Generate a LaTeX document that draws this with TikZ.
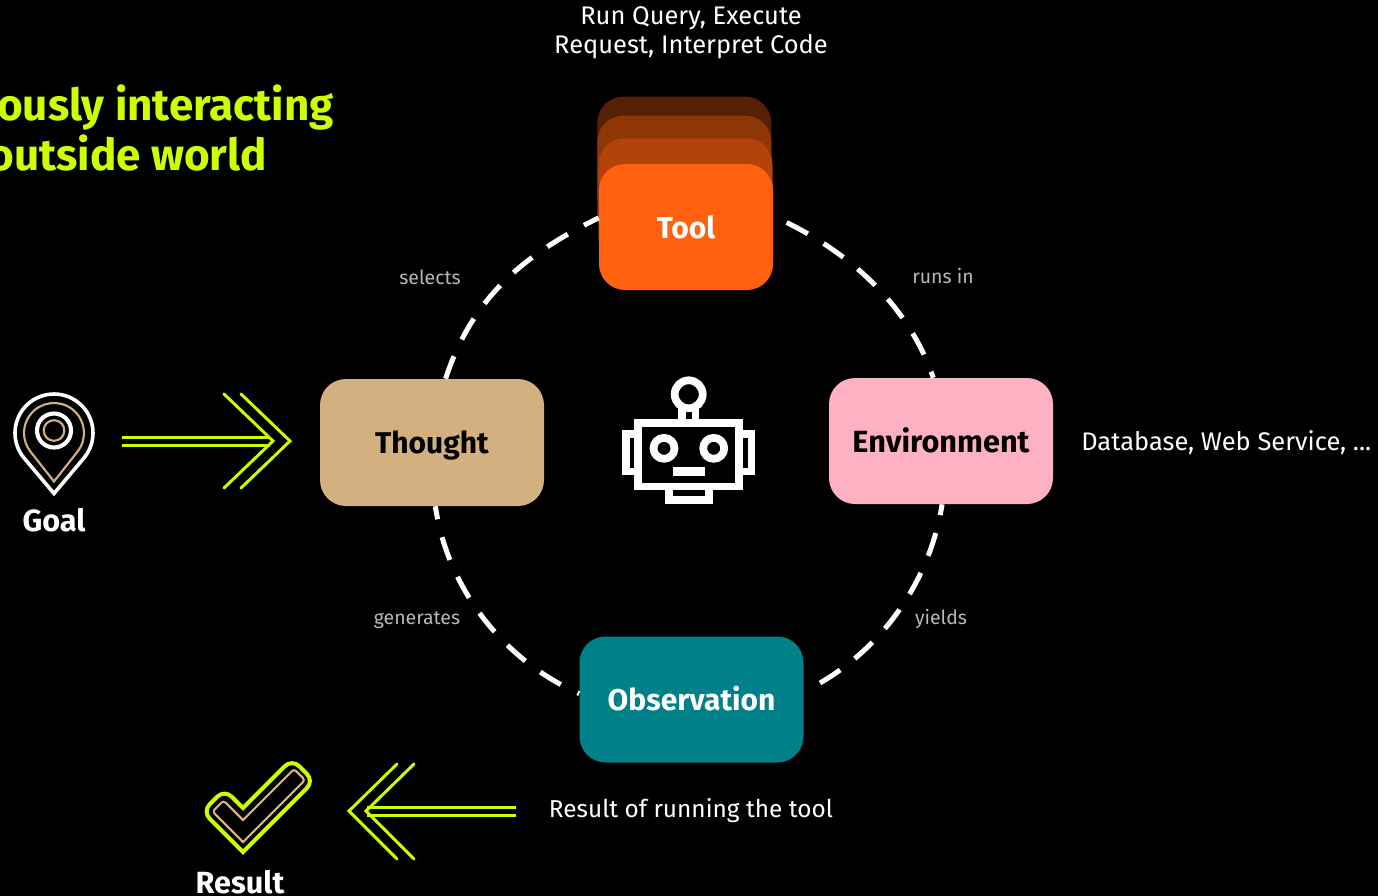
\documentclass[tikz,border=0pt]{standalone}
\usepackage{fontspec}
\setmainfont{Fira Sans}
\definecolor{lime}{HTML}{CCFF00}
\definecolor{tan}{HTML}{D2B07F}
\definecolor{toolc}{HTML}{FF610F}
\definecolor{toolb}{HTML}{B4430A}
\definecolor{toolm}{HTML}{8F3607}
\definecolor{toolt}{HTML}{562006}
\definecolor{pinkc}{HTML}{FFB1C4}
\definecolor{tealc}{HTML}{008089}
\definecolor{graylab}{HTML}{B8B8B8}
\tikzset{
  cardbox/.style={rounded corners=19.5pt,inner sep=0pt,minimum width=168pt,minimum height=94.5pt,
     text height=16.5pt,text depth=0pt,font=\fontsize{22.5pt}{26pt}\selectfont\bfseries},
  stackbox/.style={cardbox,minimum width=130.5pt},
  loop/.style={draw=white,line width=3.75pt,dash pattern=on 18pt off 13.9pt},
  chev/.style={draw=lime,line width=2.2pt,line cap=round,line join=miter},
  bar/.style={draw=lime,line width=2.6pt},
  lab/.style={text=graylab,font=\fontsize{14.6pt}{17pt}\selectfont,inner sep=0pt},
  note/.style={text=white,font=\fontsize{19.1pt}{22pt}\selectfont,inner sep=0pt,align=center},
  head/.style={text=white,font=\fontsize{23pt}{26pt}\selectfont\bfseries,inner sep=0pt},
  title/.style={text=lime,font=\fontsize{33pt}{37pt}\selectfont\bfseries,inner sep=0pt,anchor=east},
  robot/.style={draw=white,line width=5.8pt},
}
\begin{document}
\begin{tikzpicture}[x=0.75pt,y=0.75pt]
\fill[black] (0,0) rectangle (1378,-896);
\useasboundingbox (0,0) rectangle (1378,-896);
% tool stack
\node[stackbox,fill=toolt] (tool3) at (684.3,-159.7) {};
\node[stackbox,fill=toolm] (tool2) at (684.3,-178.7) {};
\node[stackbox,fill=toolb] (tool1) at (685.5,-201.3) {};
\node[stackbox,fill=toolc,text=white] (tool) at (686,-227) {Tool};
% nodes
\node[cardbox,fill=tan,text=black,minimum height=95.25pt] (thought) at (432,-442.5) {Thought};
\node[cardbox,fill=pinkc,text=black,font=\fontsize{23pt}{26pt}\selectfont\bfseries] (env) at (941,-441) {Environment};
\node[cardbox,fill=tealc,text=white] (obs) at (691.5,-699.5) {Observation};
% dashed loop
\draw[loop,dash phase=20.8pt] (tool.7) .. controls (845,-248) and (908,-303) .. (env.97);
\draw[loop,dash phase=9.75pt] (env.-89) .. controls (929,-586) and (876.9,-656.1) .. (obs.4);
\draw[loop,dash phase=16.5pt] (obs.177) .. controls (503,-660) and (447.4,-588) .. (thought.-87);
\draw[loop] (thought.78) .. controls (472,-298) and (523,-255) .. (tool.174);
% labels
\node[note] (n1) at (691,-33) {Run Query, Execute\\Request, Interpret Code};
\node[title] (t1) at (334,-108) {ously interacting};
\node[title] (t2) at (267,-153) {outside world};
\node[lab] (l1) at (430,-277.5) {selects};
\node[lab] (l2) at (943,-276.5) {runs in};
\node[lab] (l3) at (417,-620) {generates};
\node[lab] (l4) at (941,-619) {yields};
\node[note,anchor=west] (n2) at (1081,-443) {Database, Web Service, ...};
\node[note,font=\fontsize{18.3pt}{22pt}\selectfont] (n3) at (691,-811) {Result of running the tool};
\node[head] (goal) at (54,-520) {Goal};
\node[head] (result) at (240,-882) {Result};
% goal pin
\draw[white,line width=2.7pt,line join=miter] (54,-493.5) -- ([shift={(54,-433)}]-40.1:39) arc[start angle=-40.1,end angle=220.1,radius=39] -- cycle;
\draw[tan,line width=1.6pt] (54,-481.5) -- ([shift={(54,-433)}]-38.2:30) arc[start angle=-38.2,end angle=218.2,radius=30] -- cycle;
\draw[white,line width=3.1pt] (54,-430.5) circle[radius=17];
\draw[tan,line width=1.6pt] (54,-430.5) circle[radius=10.3];
% arrow goal -> thought
\coordinate (ga) at (122,-437.3); \coordinate (gb) at (122,-445.7);
\coordinate (gc) at (270,-437.3); \coordinate (gd) at (270,-445.7);
\draw[bar] (ga) -- (gc);
\draw[bar] (gb) -- (gd);
\coordinate (ge) at (224,-394); \coordinate (gf) at (273,-441); \coordinate (gg) at (224,-488);
\coordinate (gh) at (241,-394); \coordinate (gi) at (290,-441); \coordinate (gj) at (241,-488);
\draw[chev] (ge) -- (gf) -- (gg);
\draw[chev] (gh) -- (gi) -- (gj);
% arrow to result
\coordinate (ra) at (516,-807.3); \coordinate (rb) at (516,-815.7);
\coordinate (rc) at (367,-807.3); \coordinate (rd) at (367,-815.7);
\draw[bar] (ra) -- (rc);
\draw[bar] (rb) -- (rd);
\coordinate (re) at (397,-764); \coordinate (rf) at (349,-811); \coordinate (rg) at (397,-859);
\coordinate (rh) at (414,-764); \coordinate (ri) at (366,-811); \coordinate (rj) at (414,-859);
\draw[chev] (re) -- (rf) -- (rg);
\draw[chev] (rh) -- (ri) -- (rj);
% check mark
\draw[lime,line width=3pt,line join=miter]
  (243,-852) [rounded corners=7.5pt] -- (202.5,-811.5) -- (224.5,-789.5) [sharp corners] -- (243,-808) [rounded corners=7.5pt] -- (292,-759) -- (314,-781) [sharp corners] -- cycle;
\draw[tan,line width=1.6pt,line join=miter]
  (243,-842) [rounded corners=2.2pt] -- (212.5,-811.5) -- (223.5,-800.5) [sharp corners] -- (243,-820) [rounded corners=2.2pt] -- (294,-769) -- (305,-780) [sharp corners] -- cycle;
% robot
\draw[robot] (638.3,-422.7) rectangle (739.3,-486.5);
\draw[robot] (638.3,-434) -- (626,-434) -- (626,-471.6) -- (638.3,-471.6);
\draw[robot] (739.3,-434) -- (751.6,-434) -- (751.6,-471.6) -- (739.3,-471.6);
\draw[robot] (668.7,-486.5) -- (668.7,-500) -- (709,-500) -- (709,-486.5);
\draw[robot] (664,-448.3) circle[radius=10.5];
\draw[robot] (713.7,-448.3) circle[radius=10.5];
\fill[white] (673,-467) rectangle (705,-475.7);
\draw[robot] (688.7,-394.3) circle[radius=14];
\draw[robot] (682,-406) -- (682,-420);
\draw[robot] (695.5,-406) -- (695.5,-420);
\end{tikzpicture}
\end{document}
